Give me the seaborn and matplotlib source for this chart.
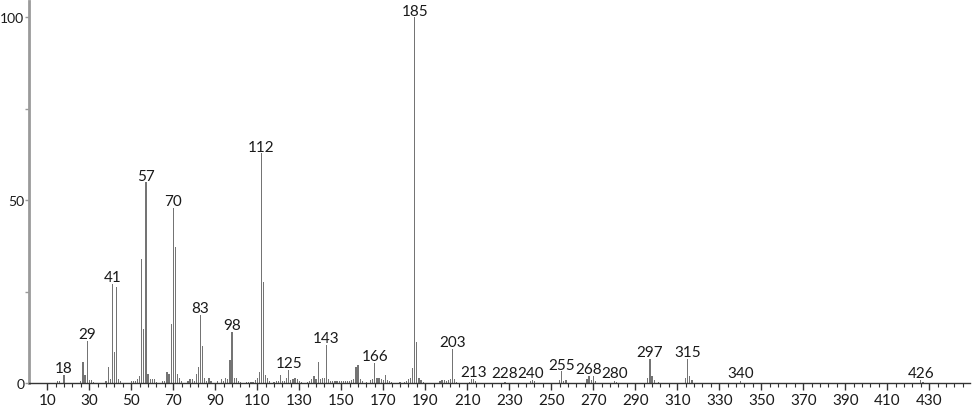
import matplotlib
matplotlib.use('Agg')
import matplotlib.pyplot as plt
import matplotlib.ticker as mticker
import seaborn as sns
import numpy as np

# m/z values and relative intensities (%)
mz = [15, 16, 18, 26, 27, 28, 29, 30, 31, 32, 38, 39, 40, 41, 42, 43, 44, 45,
      50, 51, 52, 53, 54, 55, 56, 57, 58, 59, 60, 61, 62, 65, 66, 67, 68, 69,
      70, 71, 72, 73, 74, 77, 78, 79, 80, 81, 82, 83, 84, 85, 86, 87, 88, 91,
      93, 94, 95, 96, 97, 98, 99, 100, 101, 102, 105, 106, 107, 108, 109, 110,
      111, 112, 113, 114, 115, 116, 118, 119, 120, 121, 122, 123, 124, 125,
      126, 127, 128, 129, 130, 131, 134, 135, 136, 137, 138, 139, 140, 141,
      142, 143, 144, 145, 146, 147, 148, 149, 150, 151, 152, 153, 154, 155,
      156, 157, 158, 159, 160, 162, 164, 165, 166, 167, 168, 169, 170, 171,
      172, 173, 174, 178, 180, 181, 182, 183, 184, 185, 186, 187, 188, 189,
      197, 198, 199, 200, 201, 202, 203, 204, 205, 211, 212, 213, 214, 228,
      240, 241, 242, 254, 255, 256, 257, 267, 268, 269, 270, 271, 280, 281,
      296, 297, 298, 299, 301, 314, 315, 316, 317, 340, 426, 427]
intensity = [0.6, 0.5, 2.2, 0.6, 5.7, 2.2, 11.6, 0.7, 0.7, 0.4, 0.6, 4.5, 1.1,
             27.1, 8.6, 26.3, 1.1, 0.6, 0.5, 0.6, 0.5, 1.1, 1.8, 33.9, 14.8,
             54.9, 2.5, 1.1, 1.1, 1.1, 0.4, 0.5, 0.6, 3.1, 2.5, 16.1, 47.9,
             37.3, 2.5, 1.5, 0.6, 0.6, 1.0, 1.0, 0.6, 2.5, 4.3, 18.6, 10.2,
             1.3, 0.6, 1.3, 0.5, 0.5, 1.1, 0.6, 1.5, 1.2, 6.3, 13.9, 1.5, 1.3,
             0.5, 0.3, 0.4, 0.3, 0.4, 0.3, 0.8, 1.5, 3.1, 62.8, 27.7, 2.2, 1.5,
             0.5, 0.4, 0.6, 0.6, 2.2, 0.5, 0.6, 1.3, 3.6, 0.8, 1.0, 1.3, 1.0,
             0.5, 0.3, 0.4, 0.5, 1.2, 2.0, 1.2, 5.7, 1.2, 1.5, 1.3, 10.4, 1.0,
             0.6, 0.6, 0.5, 0.5, 0.5, 0.5, 0.5, 0.5, 0.5, 0.5, 0.8, 1.0, 4.3,
             4.9, 1.0, 0.5, 0.3, 0.7, 1.0, 5.5, 1.5, 1.3, 1.0, 0.8, 2.2, 0.8,
             0.6, 0.3, 0.3, 0.4, 0.5, 1.0, 1.5, 4.0, 100.0, 11.3, 1.5, 0.8,
             0.3, 0.5, 0.8, 0.8, 0.6, 0.8, 1.0, 9.3, 1.0, 0.4, 0.4, 1.0, 1.2,
             0.5, 0.3, 0.6, 0.7, 0.6, 0.8, 3.2, 0.5, 0.8, 1.2, 2.0, 0.8, 1.8,
             0.5, 0.5, 0.4, 1.5, 6.7, 2.0, 0.8, 0.4, 1.5, 6.6, 2.0, 0.7, 0.6,
             0.8, 0.4]

# peaks that carry an m/z label
labeled = [18, 29, 41, 57, 70, 83, 98, 112, 125, 143, 166, 185, 203, 213,
           228, 240, 255, 268, 280, 297, 315, 340, 426]

x_major = list(range(10, 450, 20))
y_major = [0, 50, 100]

sns.set_style('ticks')
plt.rcParams['font.family'] = ['Lato', 'DejaVu Sans']

fig = plt.figure(figsize=(9.74, 4.06), dpi=100)
ax = fig.add_axes([29 / 974, 22 / 406, 941 / 974, 382 / 406])

sns.histplot(x=mz, weights=intensity, discrete=True, shrink=0.55,
             color='#747474', alpha=1, linewidth=0, ax=ax)

lookup = dict(zip(mz, intensity))
for m in labeled:
    ax.annotate(str(m), (m, max(lookup[m], 1.0)), xytext=(0, 2),
                textcoords='offset points', ha='center', va='baseline',
                fontsize=11, color='#1a1a1a')

ax.set_xlim(1.3, 449.4)
ax.set_ylim(0, 104.5)
ax.set_xlabel('')
ax.set_ylabel('')

ax.xaxis.set_major_locator(mticker.FixedLocator(x_major))
ax.xaxis.set_minor_locator(mticker.FixedLocator(np.arange(10, 450, 4)))
ax.yaxis.set_major_locator(mticker.FixedLocator(y_major))
ax.yaxis.set_minor_locator(mticker.FixedLocator([25, 75]))

sns.despine(ax=ax)
ax.spines['left'].set_color('#9a9a9a')
ax.spines['left'].set_linewidth(2)
ax.spines['bottom'].set_color('#333333')
ax.spines['bottom'].set_linewidth(1)

ax.tick_params(axis='x', which='major', length=5, width=1, color='#333333',
               labelsize=11, pad=2, labelcolor='#1a1a1a')
ax.tick_params(axis='x', which='minor', length=3, width=0.8, color='#333333')
ax.tick_params(axis='y', which='major', length=3, width=1, color='#9a9a9a',
               labelsize=10, pad=0.5, labelcolor='#1a1a1a')
ax.tick_params(axis='y', which='minor', length=3, width=1, color='#9a9a9a')

fig.savefig('out.png', dpi=100)
